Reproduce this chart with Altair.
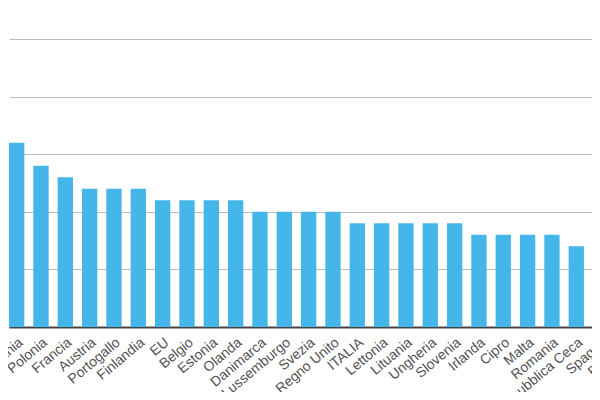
import altair as alt
import pandas as pd

paesi = ["Germania", "Polonia", "Francia", "Austria", "Portogallo", "Finlandia",
         "EU", "Belgio", "Estonia", "Olanda", "Danimarca", "Lussemburgo", "Svezia",
         "Regno Unito", "ITALIA", "Lettonia", "Lituania", "Ungheria", "Slovenia",
         "Irlanda", "Cipro", "Malta", "Romania", "Repubblica Ceca", "Spagna", "Bulgaria"]
valori = [16, 14, 13, 12, 12, 12,
          11, 11, 11, 11, 10, 10, 10,
          10, 9, 9, 9, 9, 9,
          8, 8, 8, 8, 7, 7, 7]
griglia = [0, 5, 10, 15, 20, 25]

df = pd.DataFrame({"paese": paesi, "valore": valori})

chart = alt.Chart(df).mark_bar(color="#45b6ea").encode(
    x=alt.X("paese:N", sort=paesi, title=None,
            scale=alt.Scale(range=[1, 624.6], paddingInner=0.37, paddingOuter=0),
            axis=alt.Axis(labelAngle=-40, labelFontSize=14, labelColor="#555555",
                          labelFont="Liberation Sans", ticks=False, domainColor="#444444",
                          domainWidth=2, labelPadding=8, grid=False, labelOverlap=False)),
    y=alt.Y("valore:Q", title=None,
            scale=alt.Scale(domain=[0, 27.69], nice=False, zero=True),
            axis=alt.Axis(values=griglia, labels=False, ticks=False, domain=False,
                          grid=True, gridColor="#bbbbbb", gridWidth=1.2)),
).properties(
    width=584, height=319,
    autosize=alt.AutoSizeParams(type="none"),
    padding={"left": 0, "top": 0, "right": 0, "bottom": 65},
).configure_view(stroke=None)

chart.save("out.html", embed_options={"renderer": "svg", "actions": False})
